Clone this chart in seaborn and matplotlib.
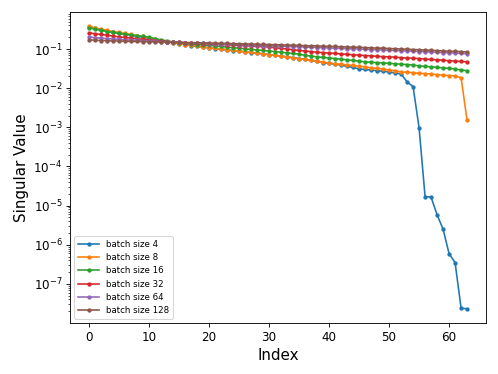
import matplotlib
matplotlib.use("Agg")
import matplotlib.pyplot as plt
import pandas as pd
import seaborn as sns

# singular values per batch size (index 0..63)
bs4 = [0.36, 0.34, 0.31, 0.29, 0.27, 0.255, 0.24, 0.225, 0.21, 0.2,
       0.19, 0.175, 0.163, 0.153, 0.144, 0.136, 0.129, 0.123, 0.117, 0.112,
       0.107, 0.103, 0.099, 0.095, 0.091, 0.088, 0.084, 0.081, 0.078, 0.075,
       0.072, 0.069, 0.066, 0.063, 0.06, 0.057, 0.054, 0.051, 0.048, 0.045,
       0.043, 0.041, 0.039, 0.036, 0.034, 0.031, 0.03, 0.029, 0.028, 0.027,
       0.026, 0.0245, 0.023, 0.0145, 0.011, 0.00098, 1.7e-5, 1.65e-5, 5.8e-6, 2.5e-6,
       5.9e-7, 3.5e-7, 2.4e-8, 2.3e-8]
bs8 = [0.385, 0.35, 0.32, 0.3, 0.28, 0.265, 0.25, 0.235, 0.22, 0.21,
       0.195, 0.18, 0.165, 0.155, 0.145, 0.137, 0.13, 0.124, 0.118, 0.113,
       0.108, 0.104, 0.1, 0.096, 0.092, 0.089, 0.085, 0.082, 0.079, 0.076,
       0.072, 0.069, 0.066, 0.063, 0.06, 0.057, 0.054, 0.051, 0.048, 0.046,
       0.044, 0.042, 0.041, 0.039, 0.038, 0.036, 0.035, 0.033, 0.032, 0.031,
       0.029, 0.028, 0.026, 0.0255, 0.025, 0.024, 0.0235, 0.023, 0.022, 0.0215,
       0.021, 0.0205, 0.0185, 0.0015]
bs16 = [0.35, 0.32, 0.3, 0.28, 0.265, 0.25, 0.24, 0.23, 0.22, 0.21,
        0.2, 0.185, 0.172, 0.162, 0.153, 0.146, 0.14, 0.135, 0.13, 0.127,
        0.124, 0.12, 0.116, 0.112, 0.108, 0.105, 0.101, 0.098, 0.095, 0.092,
        0.089, 0.086, 0.083, 0.08, 0.077, 0.074, 0.069, 0.066, 0.063, 0.061,
        0.059, 0.057, 0.055, 0.053, 0.051, 0.049, 0.047, 0.046, 0.045, 0.044,
        0.043, 0.042, 0.041, 0.04, 0.039, 0.037, 0.036, 0.035, 0.034, 0.033,
        0.032, 0.031, 0.029, 0.028]
bs32 = [0.26, 0.245, 0.235, 0.225, 0.215, 0.205, 0.197, 0.19, 0.183, 0.177,
        0.171, 0.165, 0.16, 0.155, 0.151, 0.148, 0.145, 0.142, 0.14, 0.138,
        0.136, 0.133, 0.131, 0.128, 0.126, 0.123, 0.121, 0.119, 0.117, 0.115,
        0.112, 0.108, 0.104, 0.1, 0.096, 0.092, 0.089, 0.086, 0.083, 0.081,
        0.079, 0.077, 0.075, 0.073, 0.071, 0.07, 0.068, 0.067, 0.065, 0.064,
        0.063, 0.062, 0.06, 0.059, 0.058, 0.057, 0.055, 0.054, 0.053, 0.052,
        0.05, 0.049, 0.048, 0.047]
bs64 = [0.205, 0.195, 0.19, 0.185, 0.18, 0.176, 0.172, 0.169, 0.166, 0.163,
        0.16, 0.157, 0.155, 0.152, 0.15, 0.148, 0.146, 0.144, 0.142, 0.14,
        0.138, 0.136, 0.134, 0.132, 0.131, 0.129, 0.127, 0.126, 0.124, 0.123,
        0.121, 0.12, 0.118, 0.117, 0.115, 0.114, 0.112, 0.111, 0.109, 0.108,
        0.106, 0.105, 0.104, 0.102, 0.101, 0.1, 0.098, 0.097, 0.096, 0.094,
        0.093, 0.092, 0.09, 0.089, 0.088, 0.086, 0.085, 0.084, 0.082, 0.081,
        0.08, 0.079, 0.077, 0.076]
bs128 = [0.172, 0.168, 0.165, 0.163, 0.161, 0.16, 0.158, 0.157, 0.156, 0.155,
         0.154, 0.152, 0.151, 0.15, 0.148, 0.147, 0.146, 0.145, 0.144, 0.143,
         0.142, 0.141, 0.14, 0.139, 0.137, 0.136, 0.135, 0.134, 0.133, 0.131,
         0.13, 0.129, 0.128, 0.126, 0.125, 0.124, 0.122, 0.121, 0.12, 0.118,
         0.117, 0.116, 0.114, 0.113, 0.112, 0.11, 0.109, 0.107, 0.106, 0.105,
         0.103, 0.102, 0.1, 0.099, 0.097, 0.096, 0.094, 0.093, 0.091, 0.09,
         0.088, 0.087, 0.086, 0.084]

labels = ['batch size 4', 'batch size 8', 'batch size 16',
          'batch size 32', 'batch size 64', 'batch size 128']
series = [bs4, bs8, bs16, bs32, bs64, bs128]

# long format for seaborn
rows = []
for lab, vals in zip(labels, series):
    for i, v in enumerate(vals):
        rows.append((i, v, lab))
df = pd.DataFrame(rows, columns=['Index', 'value', 'label'])

fig = plt.figure(figsize=(6.4, 374 / 77.8125), dpi=77.8125)
ax = fig.add_axes([0.1406, 0.1364, 0.9759 - 0.1406, 0.968 - 0.1364])

sns.lineplot(data=df, x='Index', y='value', hue='label', hue_order=labels,
             palette='tab10', marker='.', markersize=8, markeredgewidth=0,
             linewidth=1.5, ax=ax)
ax.set_yscale('log')
ax.set_xlabel('Index', fontsize=14)
ax.set_ylabel('Singular Value', fontsize=14)
ax.tick_params(labelsize=11)
ax.legend(loc='lower left', fontsize=8, handlelength=2.5)

fig.savefig('out.png', dpi=77.8125)
